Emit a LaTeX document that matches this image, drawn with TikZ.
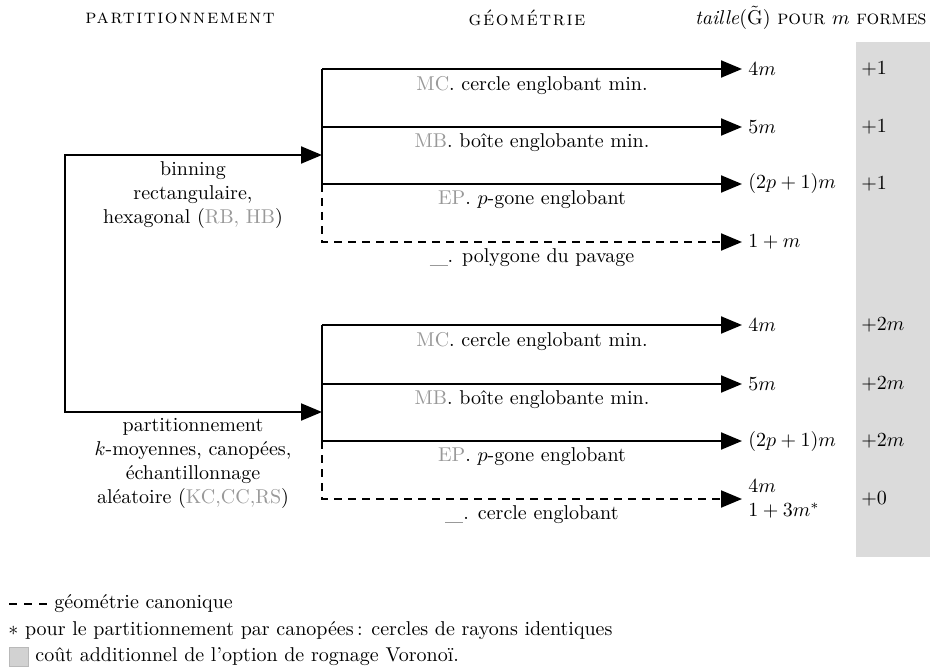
\documentclass[tikz,border=0pt]{standalone}
\usepackage{fontspec}
\newfontfamily\spacedcaps{lmromancaps10-regular}[Extension=.otf,LetterSpace=8]
\newfontfamily\plaincaps{lmromancaps10-regular}[Extension=.otf]
\usetikzlibrary{arrows.meta}
\definecolor{voronoi}{gray}{0.86}
\definecolor{abbr}{gray}{0.6}
\newcommand{\abr}[1]{\textcolor{abbr}{#1}}
\newcommand{\blank}{\abr{\rule[-1.5pt]{9pt}{0.45pt}}}
\tikzset{
  spine/.style={line width=1pt},
  flow/.style={spine,-{Triangle[length=10.5pt,width=8.5pt]}},
  canon/.style={flow,dash pattern=on 4pt off 3pt},
  lbl/.style={below,inner sep=3pt,align=center},
  val/.style={anchor=west,inner sep=3pt},
  legend/.style={anchor=west,inner sep=0pt},
}

\begin{document}
\begin{tikzpicture}[x=0.5pt,y=-0.5pt]
\useasboundingbox (0,0) rectangle (930,668);
\fill[voronoi] (856,42) rectangle (930,557);
% en-tetes
\node (hpart) at (180,18) {\spacedcaps partitionnement};
\node (hgeo) at (527,18) {\spacedcaps géométrie};
\node[anchor=east,inner sep=1pt] (hsize) at (929,18) {\textit{taille}($\tilde{\mathrm{G}}$)~{\plaincaps pour}~$m$~{\plaincaps formes}};
% partitionnement
\coordinate (root) at (65,283);
\coordinate (bin) at (322,155);
\coordinate (kpart) at (322,412);
\draw[flow] (root) |- (bin);
\draw[flow] (root) |- (kpart);
\node[lbl] (tbin) at (193,155) {binning\\rectangulaire,\\hexagonal (\abr{RB, HB})};
\node[lbl] (tkpart) at (193,412) {partitionnement\\$k$-moyennes, canopées,\\échantillonnage\\aléatoire (\abr{KC,CC,RS})};
% geometries, binning
\coordinate (s1a) at (322,69);
\coordinate (s1b) at (322,127);
\coordinate (s1c) at (322,184);
\node[val] (v1a) at (742,69) {$4m$};
\node[val] (v1b) at (742,127) {$5m$};
\node[val] (v1c) at (742,184) {$(2p+1)m$};
\node[val] (v1d) at (742,242) {$1+m$};
\draw[spine] (s1a) -- (s1c);
\draw[flow] (s1a) -- node[lbl]{\abr{MC}. cercle englobant min.} (v1a);
\draw[flow] (s1b) -- node[lbl]{\abr{MB}. boîte englobante min.} (v1b);
\draw[flow] (s1c) -- node[lbl]{\abr{EP}. $p$-gone englobant} (v1c);
\draw[canon] (s1c) |- node[lbl,pos=0.75]{\blank. polygone du pavage} (v1d);
\node[val] (c1a) at (855,69) {+1};
\node[val] (c1b) at (855,127) {+1};
\node[val] (c1c) at (855,184) {+1};
% geometries, partitionnement
\coordinate (s2a) at (322,325);
\coordinate (s2b) at (322,384);
\coordinate (s2c) at (322,441);
\node[val] (v2a) at (742,325) {$4m$};
\node[val] (v2b) at (742,384) {$5m$};
\node[val] (v2c) at (742,441) {$(2p+1)m$};
\node[val,align=left] (v2d) at (742,499) {$4m$\\$1+3m^{*}$};
\draw[spine] (s2a) -- (s2c);
\draw[flow] (s2a) -- node[lbl]{\abr{MC}. cercle englobant min.} (v2a);
\draw[flow] (s2b) -- node[lbl]{\abr{MB}. boîte englobante min.} (v2b);
\draw[flow] (s2c) -- node[lbl]{\abr{EP}. $p$-gone englobant} (v2c);
\draw[canon] (s2c) |- node[lbl,pos=0.75]{\blank. cercle englobant} (v2d);
\node[val] (c2a) at (855,325) {+2$m$};
\node[val] (c2b) at (855,384) {+2$m$};
\node[val] (c2c) at (855,441) {+2$m$};
\node[val] (c2d) at (855,499) {+0};
% legende
\coordinate (dashA) at (9,604);
\coordinate (dashB) at (47,604);
\draw[spine,dash pattern=on 4pt off 3.5pt] (dashA) -- (dashB);
\node[legend] (lcanon) at (54,604) {géométrie canonique};
\node[legend] (lstar) at (8,631) {$\ast$ pour le partitionnement par canopées\,: cercles de rayons identiques};
\node[draw=gray!55,fill=gray!35,minimum size=9.5pt,inner sep=0pt] (lbox) at (18.5,657) {};
\node[legend] (lvor) at (35,657) {coût additionnel de l'option de rognage Voronoï.};
\end{tikzpicture}
\end{document}
